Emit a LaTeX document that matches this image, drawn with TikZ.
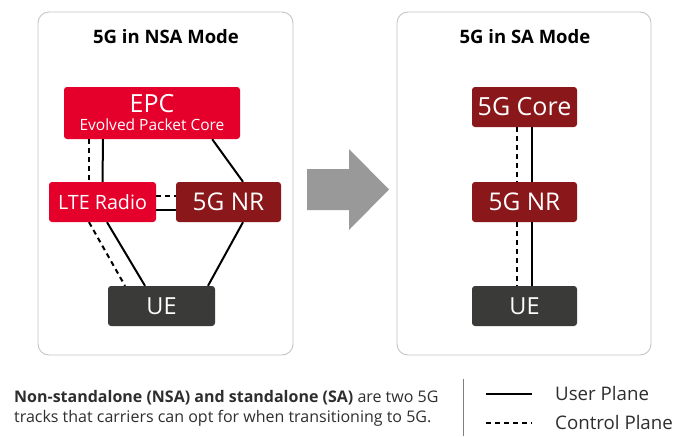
\documentclass[tikz,border=0pt]{standalone}
\usepackage{fontspec}
\setmainfont{Open Sans}
\usetikzlibrary{calc}

\definecolor{epcred}{HTML}{E4002B}
\definecolor{nrred}{HTML}{8A1719}
\definecolor{uegray}{HTML}{3A3B38}
\definecolor{panelgray}{HTML}{C4C4C4}
\definecolor{txtgray}{HTML}{2E2E2E}

\begin{document}
\begin{tikzpicture}[x=1pt, y=-1pt,
    box/.style={rectangle, rounded corners=3pt, text=white, inner sep=0pt,
        minimum height=40, minimum width=106},
    lte/.style={box, fill=epcred},
    nr/.style={box, fill=nrred},
    ue/.style={box, fill=uegray},
    panel/.style={draw=panelgray, line width=0.9pt, rounded corners=11pt},
    ttl/.style={font=\fontsize{18.5}{20}\selectfont\bfseries, text=black},
    user/.style={line width=2pt, black},
    ctrl/.style={line width=2pt, black, dash pattern=on 5pt off 4pt}]

    \useasboundingbox (0,0) rectangle (673,437);

    % panels and titles
    \draw[panel] (38,12) rectangle (293,355);
    \draw[panel] (397,12) rectangle (651,355);
    \node[ttl] (nsa) at (166,37) {5G in NSA Mode};
    \node[ttl] (sa) at (525,37) {5G in SA Mode};

    % NSA side
    \node[lte, minimum width=176, minimum height=52, align=center] (epc) at (152,113)
        {\fontsize{25}{25}\selectfont EPC\\[5pt]\fontsize{15.5}{14}\selectfont Evolved Packet Core};
    \node[lte, minimum width=107, font=\fontsize{19.7}{20}\selectfont] (lte) at (102.5,202) {LTE Radio};
    \node[nr, minimum width=105, font=\fontsize{24.4}{24}\selectfont] (nrA) at (228.5,202) {5G NR};
    \node[ue, minimum width=107, font=\fontsize{23.5}{24}\selectfont] (ueA) at (161.5,306) {UE};

    \draw[ctrl] ([xshift=-63]epc.south) -- ([xshift=-13.5]lte.north);
    \draw[user] ([xshift=-49]epc.south) -- (lte.north);
    \draw[user] ([xshift=-28]epc.south east) -- ([xshift=14.5]nrA.north);
    \draw[ctrl] ([yshift=6]lte.east) -- ([yshift=6]nrA.west);
    \draw[user] ([yshift=-8]lte.east) -- ([yshift=-8]nrA.west);
    \draw[ctrl] ([xshift=-13.5]lte.south) -- ([xshift=-36.5]ueA.north);
    \draw[user] ([xshift=4.5]lte.south) -- ([xshift=-16.5]ueA.north);
    \draw[user] ([xshift=14.5]nrA.south) -- ([xshift=46.5]ueA.north);

    % arrow
    \fill[gray!80] (307,169) -- (349,169) -- (349,149) -- (389,189.5)
        -- (349,230) -- (349,210) -- (307,210) -- cycle;

    % SA side
    \node[nr, minimum width=105, font=\fontsize{25}{25}\selectfont] (core) at (524.5,107) {5G Core};
    \node[nr, minimum width=105, font=\fontsize{24.4}{24}\selectfont] (nrB) at (524.5,202) {5G NR};
    \node[ue, minimum width=105, font=\fontsize{23.5}{24}\selectfont] (ueB) at (524.5,306) {UE};

    \draw[ctrl] ([xshift=-7.5]core.south) -- ([xshift=-7.5]nrB.north);
    \draw[user] ([xshift=7.5]core.south) -- ([xshift=7.5]nrB.north);
    \draw[ctrl] ([xshift=-7.5]nrB.south) -- ([xshift=-7.5]ueB.north);
    \draw[user] ([xshift=7.5]nrB.south) -- ([xshift=7.5]ueB.north);

    % caption and legend
    \node[anchor=west, align=left, text=txtgray, inner sep=0pt,
        font=\fontsize{16}{20}\selectfont] (cap) at (14,408)
        {\textbf{Non-standalone (NSA) and standalone (SA)} are two 5G\\
         tracks that carriers can opt for when transitioning to 5G.};
    \coordinate (sepT) at (463,379);
    \coordinate (sepB) at (463,436);
    \draw[line width=0.8pt, gray] (sepT) -- (sepB);

    \coordinate (u1) at (486,394);
    \coordinate (u2) at (532,394);
    \coordinate (c1) at (486,423);
    \coordinate (c2) at (532,423);
    \draw[user] (u1) -- (u2);
    \draw[ctrl] (c1) -- (c2);
    \node[anchor=west, inner sep=0pt, text=txtgray, font=\fontsize{18.7}{19}\selectfont] (ulab) at (555,393) {User Plane};
    \node[anchor=west, inner sep=0pt, text=txtgray, font=\fontsize{18.7}{19}\selectfont] (clab) at (555,422) {Control Plane};
\end{tikzpicture}
\end{document}
